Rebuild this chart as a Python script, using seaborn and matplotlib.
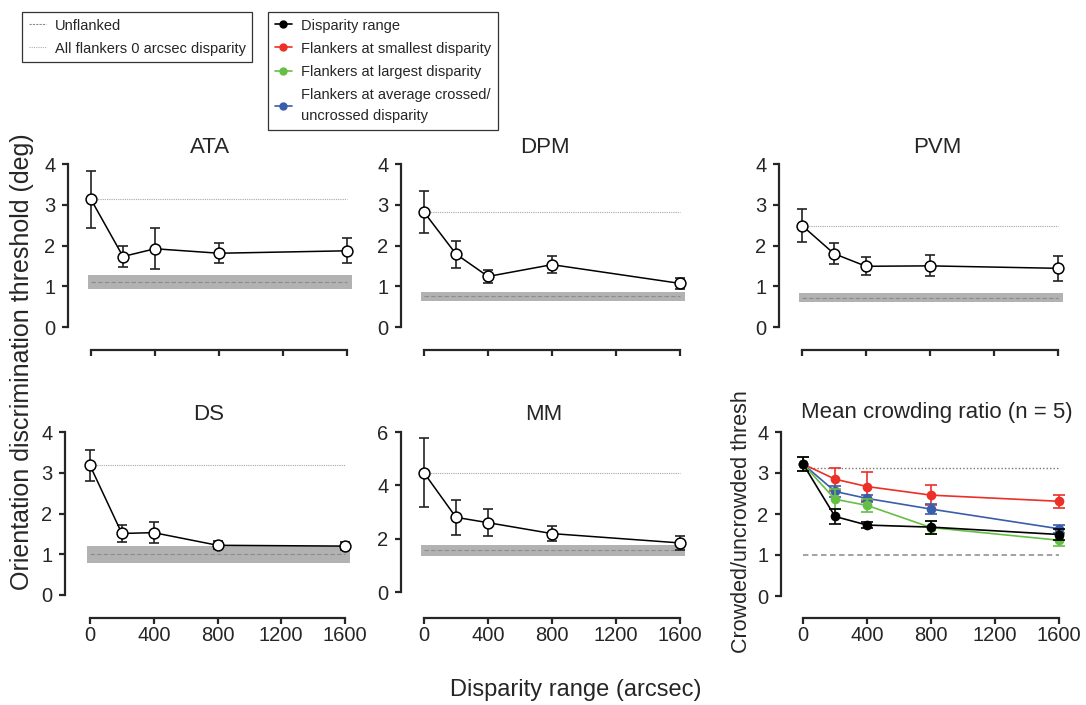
import matplotlib
matplotlib.use("Agg")
import matplotlib.pyplot as plt
from matplotlib.lines import Line2D
import seaborn as sns

# disparity conditions (arcsec)
x_disp = [0, 200, 400, 800, 1600]

# per-observer thresholds (deg): mean, error, unflanked mean/error, 0-disparity level
ata_mean = [3.13, 1.73, 1.92, 1.81, 1.87]
ata_err = [0.71, 0.25, 0.50, 0.25, 0.31]
ata_unfl = [1.10, 0.17]
ata_zero = 3.13

dpm_mean = [2.82, 1.79, 1.24, 1.53, 1.07]
dpm_err = [0.52, 0.33, 0.16, 0.21, 0.13]
dpm_unfl = [0.76, 0.11]
dpm_zero = 2.82

pvm_mean = [2.49, 1.80, 1.49, 1.50, 1.44]
pvm_err = [0.40, 0.25, 0.22, 0.26, 0.31]
pvm_unfl = [0.72, 0.11]
pvm_zero = 2.49

ds_mean = [3.18, 1.51, 1.53, 1.22, 1.20]
ds_err = [0.39, 0.20, 0.25, 0.10, 0.09]
ds_unfl = [1.00, 0.21]
ds_zero = 3.18

mm_mean = [4.47, 2.80, 2.60, 2.19, 1.84]
mm_err = [1.29, 0.66, 0.51, 0.27, 0.25]
mm_unfl = [1.57, 0.21]
mm_zero = 4.47

# mean crowding ratio (n = 5)
ratio_range = [3.22, 1.94, 1.73, 1.68, 1.50]
ratio_range_err = [0.17, 0.19, 0.08, 0.16, 0.13]
ratio_small = [3.22, 2.85, 2.67, 2.46, 2.31]
ratio_small_err = [0.17, 0.28, 0.35, 0.25, 0.16]
ratio_large = [3.22, 2.36, 2.21, 1.67, 1.36]
ratio_large_err = [0.17, 0.25, 0.16, 0.15, 0.15]
ratio_avg = [3.22, 2.55, 2.38, 2.12, 1.64]
ratio_avg_err = [0.17, 0.13, 0.08, 0.12, 0.10]
ratio_zero = 3.12
ratio_unfl = 1.0

series_labels = ["Disparity range", "Flankers at smallest disparity",
                 "Flankers at largest disparity",
                 "Flankers at average crossed/\nuncrossed disparity"]
series_colors = ["black", "#ec2f27", "#66bf45", "#3a5eab"]

sns.set_style("ticks")
plt.rcParams['font.family'] = ['Liberation Sans', 'DejaVu Sans']
plt.rcParams['axes.linewidth'] = 1.6
plt.rcParams['xtick.major.width'] = 1.6
plt.rcParams['ytick.major.width'] = 1.6
plt.rcParams['xtick.major.size'] = 4.5
plt.rcParams['ytick.major.size'] = 4
plt.rcParams['xtick.major.pad'] = 1.5
plt.rcParams['ytick.major.pad'] = 5
plt.rcParams['xtick.labelsize'] = 14.5
plt.rcParams['ytick.labelsize'] = 14.5

W, H = 1086, 705
fig = plt.figure(figsize=(W / 100, H / 100), dpi=100)


def place(ax, x0, x1600, y0, ytop, ytop_val, left, bottom):
    """Position an axes from pixel landmarks (prism-like offset spines)"""
    sx = 1600 / (x1600 - x0)
    sy = ytop_val / (y0 - ytop)
    right = x1600 + 14
    top = ytop - 6
    ax.set_position([left / W, 1 - bottom / H, (right - left) / W, (bottom - top) / H])
    ax.set_xlim((left - x0) * sx, (right - x0) * sx)
    ax.set_ylim((y0 - bottom) * sy, (y0 - top) * sy)
    ax.spines['left'].set_bounds(0, ytop_val)
    ax.spines['bottom'].set_bounds(0, 1600)
    ax.spines['right'].set_visible(False)
    ax.spines['top'].set_visible(False)


def observer_panel(ax, title, mean, err, unfl, zero, yticks, show_xlabels, pad, tx):
    bp = 20
    ax.fill_between([x_disp[0] - bp, x_disp[-1] + bp * 1.5],
                    unfl[0] - unfl[1], unfl[0] + unfl[1],
                    color='#b2b2b2', lw=0, zorder=1)
    ax.plot([x_disp[0], x_disp[-1]], [unfl[0], unfl[0]], ls=(0, (4, 2)),
            color='#8c8c8c', lw=0.8, zorder=1.5)
    ax.plot([x_disp[0], x_disp[-1]], [zero, zero], ls=(0, (1, 1)),
            color='#a6a6a6', lw=0.8, zorder=1.5)
    ax.errorbar(x_disp, mean, yerr=err, fmt='none', ecolor='#222222',
                elinewidth=1.2, capsize=3.5, capthick=1.2, zorder=2)
    sns.lineplot(x=x_disp, y=mean, ax=ax, color='black', lw=1.1, marker='o',
                 markerfacecolor='white', markeredgecolor='black',
                 markeredgewidth=1.1, markersize=7.8, zorder=3)
    ax.set_title(title, fontsize=16, pad=pad, x=tx)
    ax.set_yticks(yticks)
    ax.set_xticks([0, 400, 800, 1200, 1600])
    if not show_xlabels:
        ax.set_xticklabels([])


ax_ata = fig.add_axes([0, 0, 1, 1])
place(ax_ata, 91, 347, 327, 164, 4, 68, 350)
observer_panel(ax_ata, "ATA", ata_mean, ata_err, ata_unfl, ata_zero,
               [0, 1, 2, 3, 4], False, 0.5, 0.485)

ax_dpm = fig.add_axes([0, 0, 1, 1])
place(ax_dpm, 424, 680, 327, 164, 4, 401, 350)
observer_panel(ax_dpm, "DPM", dpm_mean, dpm_err, dpm_unfl, dpm_zero,
               [0, 1, 2, 3, 4], False, 0.5, 0.49)

ax_pvm = fig.add_axes([0, 0, 1, 1])
place(ax_pvm, 802, 1058, 327, 164, 4, 779, 350)
observer_panel(ax_pvm, "PVM", pvm_mean, pvm_err, pvm_unfl, pvm_zero,
               [0, 1, 2, 3, 4], False, 0.5, 0.54)

ax_ds = fig.add_axes([0, 0, 1, 1])
place(ax_ds, 90, 345, 595, 432, 4, 65, 618)
observer_panel(ax_ds, "DS", ds_mean, ds_err, ds_unfl, ds_zero,
               [0, 1, 2, 3, 4], True, 4, 0.487)

ax_mm = fig.add_axes([0, 0, 1, 1])
place(ax_mm, 424, 680, 592, 432, 6, 401, 618)
observer_panel(ax_mm, "MM", mm_mean, mm_err, mm_unfl, mm_zero,
               [0, 2, 4, 6], True, 4, 0.487)

# mean crowding ratio panel
ax_r = fig.add_axes([0, 0, 1, 1])
place(ax_r, 803, 1059, 596, 432, 4, 781, 618)
ax_r.plot([x_disp[0], x_disp[-1]], [ratio_unfl, ratio_unfl], ls=(0, (3, 2)),
          color='#9a9a9a', lw=1.3, zorder=1)
ax_r.plot([x_disp[0], x_disp[-1]], [ratio_zero, ratio_zero], ls=(0, (1, 1.5)),
          color='#777777', lw=1.0, zorder=1)
ratio_series = [(ratio_small, ratio_small_err, 1), (ratio_avg, ratio_avg_err, 3),
                (ratio_large, ratio_large_err, 2), (ratio_range, ratio_range_err, 0)]
for z, (vals, errs, idx) in enumerate(ratio_series):
    ax_r.errorbar(x_disp, vals, yerr=errs, fmt='none', ecolor=series_colors[idx],
                  elinewidth=1.2, capsize=4, capthick=1.2, zorder=2 + z)
    sns.lineplot(x=x_disp, y=vals, ax=ax_r, color=series_colors[idx], lw=1.2,
                 marker='o', markersize=7, markeredgewidth=0, zorder=2.5 + z)
ax_r.set_title("Mean crowding ratio (n = 5)", fontsize=16, pad=6, x=0.534)
ax_r.set_yticks([0, 1, 2, 3, 4])
ax_r.set_xticks([0, 400, 800, 1200, 1600])
ax_r.set_ylabel("Crowded/uncrowded thresh", fontsize=15.5, labelpad=4)

fig.text(22 / W, 1 - 362 / H, "Orientation discrimination threshold (deg)",
         rotation=90, fontsize=18, ha='center', va='center')
fig.text(576 / W, 1 - 690 / H, "Disparity range (arcsec)",
         fontsize=17, ha='center', va='center')

# legends
leg_kw = dict(loc='upper left', fontsize=10.5, frameon=True, fancybox=False,
              edgecolor='black', handlelength=1.2, handletextpad=0.6,
              labelspacing=0.62, borderpad=0.45, borderaxespad=0)
ref_handles = [Line2D([], [], color='#8c8c8c', ls=(0, (2, 1)), lw=0.8),
               Line2D([], [], color='#b0b0b0', ls=(0, (1, 1)), lw=0.8)]
leg1 = fig.legend(ref_handles, ["Unflanked", "All flankers 0 arcsec disparity"],
                  bbox_to_anchor=(22 / W, 1 - 12 / H), **leg_kw)
leg1.get_frame().set_linewidth(0.9)

ser_handles = [Line2D([], [], color=c, marker='o', markersize=5, lw=1.2)
               for c in series_colors]
leg2 = fig.legend(ser_handles, series_labels,
                  bbox_to_anchor=(268 / W, 1 - 12 / H), **leg_kw)
leg2.get_frame().set_linewidth(0.9)
for t in leg2.get_texts():
    t.set_linespacing(1.7)

fig.savefig("out.png", dpi=100)
